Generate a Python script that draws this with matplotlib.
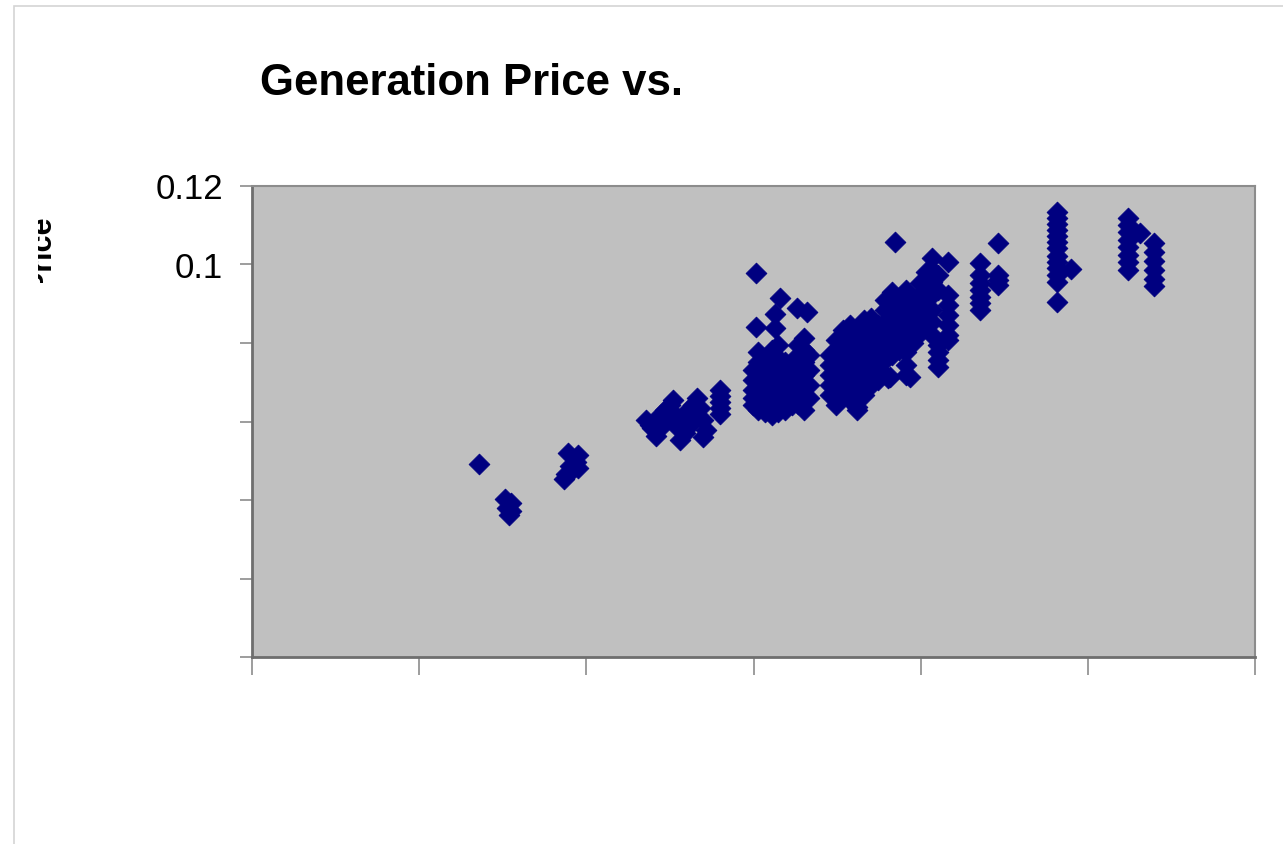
import matplotlib
matplotlib.use("Agg")
import matplotlib.pyplot as plt
from matplotlib.patches import Rectangle
from matplotlib.transforms import Bbox
from matplotlib import font_manager

# ---------------- data ----------------
x_ticks = [0, 10, 20, 30, 40, 50, 60]
y_ticks = [0.0, 0.02, 0.04, 0.06, 0.08, 0.10, 0.12]
y_tick_labels = ["", "", "", "", "", "0.1", "0.12"]
title_text = "Generation Price vs."
ylabel_text = "Price"

# scattered low-load points
low_load = [13.58, 15.13, 15.49, 15.25, 15.49, 15.37,
            18.90, 19.50, 19.38, 19.50, 19.02, 18.78, 18.66, 19.14]
low_price = [0.0492, 0.0403, 0.0392, 0.0380, 0.0372, 0.0362,
             0.0520, 0.0515, 0.0497, 0.0482, 0.0487, 0.0466, 0.0454, 0.0476]

# cluster around load 23-27
mid_load = [23.56, 23.92, 24.16, 23.80, 24.40, 24.70, 25.00, 24.88, 24.58, 25.18,
            25.60, 25.90, 26.20, 26.50, 26.38, 26.61, 26.79, 26.97, 27.15, 26.97,
            26.08, 25.72, 25.30, 25.45]
mid_price = [0.0604, 0.0583, 0.0563, 0.0591, 0.0617, 0.0629, 0.0642, 0.0609, 0.0591, 0.0655,
             0.0553, 0.0571, 0.0591, 0.0609, 0.0642, 0.0660, 0.0634, 0.0604, 0.0578, 0.0561,
             0.0629, 0.0604, 0.0617, 0.0585]

# isolated outliers in the upper clusters
out_load = [30.14, 31.58, 32.60, 33.19, 31.28, 30.14, 31.28,
            36.18, 38.04, 38.46, 38.16, 39.35, 44.62, 48.15, 48.98, 53.11]
out_price = [0.0978, 0.0915, 0.0889, 0.0879, 0.0874, 0.0841, 0.0838,
             0.0637, 0.0711, 0.1057, 0.0713, 0.0713, 0.1055, 0.0904, 0.0989, 0.1080]

# vertical stacks of observations at the same load level
col_load = [28.00, 29.96, 30.26, 30.68, 31.10, 31.46, 31.88, 32.30, 32.66, 33.01, 33.31,
            34.57, 34.93, 35.35, 35.77, 36.18, 36.60, 37.02, 37.44,
            37.86, 38.28, 38.70, 39.11, 39.53, 39.95, 40.31, 40.67, 41.03, 41.63,
            43.54, 44.62, 48.15, 52.39, 53.95]
col_price = [
    [0.0680, 0.0665, 0.0650, 0.0634, 0.0619],
    [0.0731, 0.0706, 0.0680, 0.0660, 0.0642],
    [0.0777, 0.0752, 0.0711, 0.0668, 0.0629],
    [0.0757, 0.0726, 0.0693, 0.0655, 0.0624],
    [0.0782, 0.0744, 0.0711, 0.0675, 0.0642, 0.0617],
    [0.0795, 0.0762, 0.0726, 0.0685, 0.0655, 0.0624],
    [0.0752, 0.0718, 0.0680, 0.0650, 0.0629],
    [0.0731, 0.0701, 0.0668, 0.0642],
    [0.0795, 0.0769, 0.0736, 0.0706, 0.0675, 0.0645],
    [0.0813, 0.0782, 0.0752, 0.0718, 0.0685, 0.0655, 0.0629],
    [0.0769, 0.0731, 0.0693, 0.0660],
    [0.0769, 0.0744, 0.0718, 0.0693, 0.0668],
    [0.0808, 0.0782, 0.0757, 0.0726, 0.0693, 0.0660, 0.0642],
    [0.0833, 0.0803, 0.0769, 0.0736, 0.0706, 0.0675],
    [0.0846, 0.0813, 0.0782, 0.0752, 0.0718, 0.0685, 0.0655],
    [0.0820, 0.0787, 0.0757, 0.0726, 0.0693, 0.0660, 0.0629],
    [0.0859, 0.0833, 0.0795, 0.0762, 0.0731, 0.0701, 0.0668],
    [0.0864, 0.0828, 0.0795, 0.0757, 0.0726, 0.0693],
    [0.0846, 0.0808, 0.0769, 0.0736, 0.0706],
    [0.0910, 0.0884, 0.0854, 0.0820, 0.0787, 0.0757],
    [0.0930, 0.0897, 0.0864, 0.0833, 0.0803, 0.0769],
    [0.0915, 0.0884, 0.0854, 0.0820, 0.0782],
    [0.0935, 0.0904, 0.0871, 0.0838, 0.0808, 0.0777, 0.0744, 0.0718],
    [0.0897, 0.0864, 0.0833, 0.0800],
    [0.0953, 0.0922, 0.0889, 0.0859, 0.0825],
    [0.0981, 0.0948, 0.0915, 0.0879, 0.0846],
    [0.1017, 0.0986, 0.0955, 0.0922, 0.0884, 0.0854, 0.0820],
    [0.0973, 0.0935, 0.0795, 0.0777, 0.0757, 0.0739],
    [0.1006, 0.0922, 0.0897, 0.0871, 0.0846, 0.0820, 0.0808],
    [0.1004, 0.0973, 0.0953, 0.0935, 0.0917, 0.0902, 0.0884],
    [0.0973, 0.0961, 0.0948],
    [0.1134, 0.1118, 0.1103, 0.1088, 0.1073, 0.1057, 0.1042, 0.1022, 0.1006, 0.0991, 0.0973, 0.0955],
    [0.1118, 0.1101, 0.1083, 0.1062, 0.1045, 0.1024, 0.1006, 0.0986],
    [0.1055, 0.1032, 0.1009, 0.0986, 0.0963, 0.0945],
]

# ---------------- assemble ----------------
xs = low_load + mid_load + out_load
ys = low_price + mid_price + out_price
for lx, plist in zip(col_load, col_price):
    xs += [lx] * len(plist)
    ys += plist

plt.rcParams['font.family'] = ['Liberation Sans', 'DejaVu Sans']

installed = {f.name for f in font_manager.fontManager.ttflist}
if 'Liberation Sans Narrow' in installed:
    title_family = ['Liberation Sans Narrow', 'DejaVu Sans']
    title_size = 38
else:
    title_family = ['Liberation Sans', 'DejaVu Sans']
    title_size = 31.5

W, H = 1283, 844
fig = plt.figure(figsize=(W / 100, H / 100), dpi=100)
fig.patch.set_facecolor('white')

# outer chart frame (light gray), running off the right/bottom
fig.patches.append(Rectangle((14 / W, -0.1), 1.2, (H - 6) / H + 0.1,
                             transform=fig.transFigure, fill=False,
                             edgecolor='#d4d4d4', linewidth=1.2))

ax = fig.add_axes([252 / W, (H - 657) / H, (1255 - 252) / W, (657 - 186) / H])
ax.set_facecolor('#c0c0c0')
ax.scatter(xs, ys, marker='D', s=112, color='#000080', edgecolors='#000080',
           linewidths=0.6, zorder=3, clip_on=False)

ax.set_xlim(0, 60)
ax.set_ylim(0, 0.12)
ax.set_xticks(x_ticks)
ax.set_xticklabels([])
ax.set_yticks(y_ticks)
ax.set_yticklabels(y_tick_labels)
ax.tick_params(axis='both', direction='out', length=9, width=1.2, color='#8c8c8c',
               labelsize=25, labelcolor='black', pad=12)
ax.tick_params(axis='x', length=13)

for side in ['left', 'bottom']:
    ax.spines[side].set_color('#6e6e6e')
    ax.spines[side].set_linewidth(2.0)
for side in ['top', 'right']:
    ax.spines[side].set_color('#8c8c8c')
    ax.spines[side].set_linewidth(1.5)

fig.text(260 / W, (H - 95) / H, title_text, fontsize=title_size, fontweight='bold',
         family=title_family, ha='left', va='baseline', color='black')

# truncated y-axis label (only part of it is visible in the original)
yl = fig.text(57 / W, (H - 216) / H, ylabel_text, rotation=90, fontsize=22,
              fontweight='bold', ha='right', va='top', color='black')
clip = Bbox.from_extents(38, H - 283, 80, H - 205)
yl.set_clip_box(clip)
yl.set_clip_on(True)

fig.savefig('out.png', dpi=100, facecolor='white')
